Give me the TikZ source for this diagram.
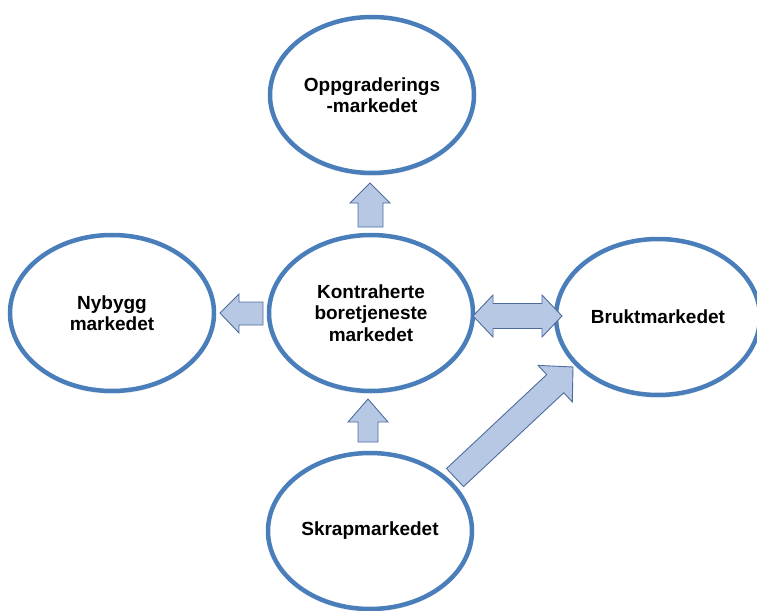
\documentclass[tikz,border=0pt]{standalone}
\usepackage{fontspec}
\setmainfont{Liberation Sans}
\usetikzlibrary{shapes.geometric,shadows}
\definecolor{ringblue}{RGB}{74,126,187}
\definecolor{arrowfill}{RGB}{183,200,228}
\definecolor{arrowline}{RGB}{78,108,158}
\tikzset{
  market/.style={ellipse, draw=ringblue, line width=4.5pt, fill=white,
    minimum width=204pt, minimum height=156pt, inner sep=0pt, align=center,
    font=\bfseries\fontsize{19}{21.5}\selectfont,
    drop shadow={opacity=0.12, shadow xshift=0pt, shadow yshift=-3pt}},
  blockarrow/.style={draw=arrowline, fill=arrowfill, line width=0.9pt, line join=miter}
}
\begin{document}
\begin{tikzpicture}[x=1pt,y=-1pt]
\useasboundingbox (0,0) rectangle (757,610);

% market ellipses
\node[market] (upg)  at (372,95)  {Oppgraderings\\-markedet};
\node[market] (kon)  at (371,313) {Kontraherte\\boretjeneste\\markedet};
\node[market] (ny)   at (112,313) {Nybygg\\markedet};
\node[market] (brukt) at (658,317) {Bruktmarkedet};
\node[market] (skrap) at (370,531) {Skrapmarkedet};

% block arrows between the markets
% centre -> upgrade (up)
\draw[blockarrow] (358,227) -- (358,203) -- (350,203) -- (370,183) -- (390,203)
  -- (383,203) -- (383,227) -- cycle;
% centre -> new build (left)
\draw[blockarrow] (263,302) -- (239,302) -- (239,294) -- (220,313) -- (239,333)
  -- (239,325) -- (263,325) -- cycle;
% centre <-> used market (double)
\draw[blockarrow] (473,316) -- (493,295) -- (493,303.5) -- (542,303.5) -- (542,295)
  -- (562,316) -- (542,337) -- (542,328.5) -- (493,328.5) -- (493,337) -- cycle;
% scrap -> centre (up)
\draw[blockarrow] (358,442) -- (358,422) -- (348,422) -- (368,399) -- (388,422)
  -- (378,422) -- (378,442) -- cycle;
% scrap -> used market (diagonal)
\draw[blockarrow] (446.5,468.5) -- (546.7,374.6) -- (538.1,365.4) -- (573,367)
  -- (572.3,401.9) -- (563.7,392.8) -- (463.5,486.6) -- cycle;
\end{tikzpicture}
\end{document}
